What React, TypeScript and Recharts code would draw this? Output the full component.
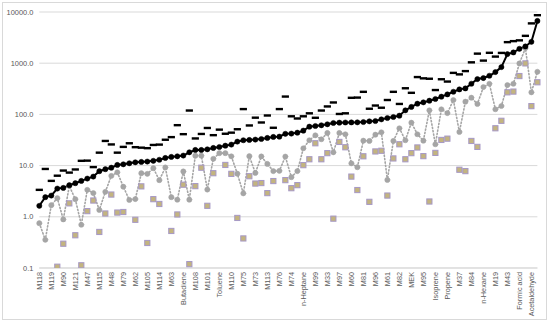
import React from "react";
import { ComposedChart, Line, XAxis, YAxis, CartesianGrid } from "recharts";

const tickLabels: string[] = [
  "M118", "M119", "M90", "M121", "M47", "M115", "M48", "M79", "M62", "M105",
  "M114", "M63", "Butadiene", "M108", "M101", "Toluene", "M110", "M75", "M73", "M113",
  "M76", "M74", "n-Heptane", "M99", "M33", "M97", "M60", "M81", "M96", "M61",
  "M82", "MEK", "M95", "Isoprene", "Propene", "M37", "M84", "n-Hexane", "M19", "M43",
  "Formic acid", "Acetaldehyde",
];

// 84 categories; labels shown on every other category
const categoryIndex: number[] = Array.from({ length: 84 }, (_, i) => i);

const blackSeries: number[] = [
  1.64, 2.42, 2.6, 3.56, 3.67, 4.14, 4.53, 5.03, 5.58, 6.1,
  7.77, 8.5, 9.1, 10.3, 10.6, 11.1, 11.6, 11.8, 12.0, 12.4,
  13.0, 14.1, 14.8, 15.2, 15.7, 18.2, 20.2, 20.2, 20.8, 22.1,
  23.1, 24.5, 25.7, 29.4, 31.3, 31.7, 32.2, 33.1, 34.7, 36.3,
  36.8, 41.8, 42.2, 44, 48.2, 57.6, 59.4, 61.3, 64.1, 68,
  69, 69.5, 69.8, 70, 71, 73.3, 74.3, 80, 85, 89,
  94.4, 120, 140, 162, 172, 185, 200, 222, 246, 277,
  308, 322, 397, 490, 513, 569, 671, 839, 1504, 1622,
  1910, 2125, 2620, 6700,
];

const greySeries: number[] = [
  0.75, 0.356, 1.69, 2.31, 0.89, 4.0, 2.21, 0.7, 3.36, 2.91,
  1.36, 3.07, 6.3, 7.4, 3.88, 2.14, 2.22, 7.1, 6.9, 8.9,
  5.2, 9.2, 2.42, 2.16, 7.7, 2.16, 15.6, 15.6, 3.4, 13.6,
  17.5, 17.5, 15.2, 6.95, 2.87, 15.3, 7.2, 15.1, 10.8, 7.8,
  7.9, 15.0, 5.94, 7.8, 21.8, 31.3, 39.1, 32.7, 43.4, 18.2,
  43.4, 41, 11.1, 9.3, 30.7, 30.3, 40.2, 44.8, 5.26, 30.3,
  53.6, 31.3, 69, 41, 30.7, 120, 26.1, 126, 106, 191,
  45.4, 177, 212, 160, 342, 397, 126, 146, 374, 397,
  988, 1970, 270, 680,
];

const squareSeries: (number | null)[] = [
  null, null, null, 0.106, 0.298, 1.83, 0.436, 0.113, 1.29, 2.08,
  0.506, 1.16, 2.72, 1.21, 1.24, null, 0.874, 3.93, 0.308, 2.21,
  1.78, null, 0.529, 1.11, 4.24, 0.119, 3.97, 9.1, 1.64, 7.1,
  null, 10.3, 6.9, 0.95, 0.378, 6.2, 4.46, 4.56, 2.9, 4.99,
  null, 5.2, 3.62, 4.15, 10.2, 13.3, 27.3, 13.3, 17.5, 0.92,
  29, 22.8, 6.1, 3.33, 15.2, 1.96, 18.9, 19.5, 2.6, 13.8,
  26.1, 13.3, 17.5, 22.6, 15.3, 1.99, 17.7, 31.7, 33.6, null,
  8.3, 7.8, 30.3, 23.2, null, null, 53.6, 75, 270, 279,
  561, 991, 145, 424,
];

const dashSeries: number[] = [
  3.36, 8.6, 5.03, 6.35, 8.0, 7.3, 8.4, 12.4, 12.5, 9.35,
  17.9, 30.3, 25.9, 17.9, 23.2, 27.3, 22.9, 22.4, 21.9, 25.3,
  25.7, 32, 36, 61.6, 41.1, 119, 33.9, 41.5, 54.3, 39.3,
  50.4, 41.9, 44, 51.3, 127, 60.8, 86.3, 69.5, 95.2, 54.8,
  127, 223, 91.8, 83.2, 91.8, 105, 85.9, 119, 143, 171,
  102, 105, 211, 213, 276, 129, 149, 135, 191, 276,
  160, 324, 264, 536, 506, 497, 299, 486, 438, 647,
  605, 701, 1040, 1538, 1124, 1596, 1346, 1588, 2577, 2698,
  2795, 3423, 5994, 8660,
];

const yTicks: number[] = [0.1, 1, 10, 100, 1000, 10000];

const data = categoryIndex.map((i) => ({
  i,
  black: blackSeries[i],
  grey: greySeries[i],
  square: squareSeries[i],
  dash: dashSeries[i],
}));

const FONT = "'Liberation Sans', Arial, sans-serif";

const XTick = (props: any) => {
  const { x, y, payload } = props;
  const idx = Number(payload.value);
  if (idx % 2 !== 0) return <g />;
  const label = tickLabels[idx / 2] ?? "";
  return (
    <text
      transform={`translate(${x},${y}) rotate(-90)`}
      textAnchor="end"
      dy="0.35em"
      fontSize={7.3}
      fontFamily={FONT}
      fill="#595959"
    >
      {label}
    </text>
  );
};

const SquareDot = (props: any) => {
  const { cx, cy, value, index } = props;
  if (value == null || cx == null || cy == null || isNaN(cy)) return <g key={`sq${index}`} />;
  return (
    <rect
      key={`sq${index}`}
      x={cx - 2.6}
      y={cy - 2.6}
      width={5.2}
      height={5.2}
      fill="#C3B47F"
      stroke="#A698C6"
      strokeWidth={1}
    />
  );
};

const DashDot = (props: any) => {
  const { cx, cy, value, index } = props;
  if (value == null || cx == null || cy == null || isNaN(cy)) return <g key={`d${index}`} />;
  return <rect key={`d${index}`} x={cx - 3.6} y={cy - 1.2} width={7.2} height={2.4} fill="#000000" />;
};

export default function App() {
  return (
    <div style={{ position: "absolute", left: 0, top: 0, width: 550, height: 323, background: "#fff" }}>
      <div
        style={{
          position: "absolute",
          left: 2,
          top: 2,
          width: 543,
          height: 316,
          border: "1px solid #D9D9D9",
          pointerEvents: "none",
        }}
      />
      <ComposedChart
        width={550}
        height={323}
        data={data}
        margin={{ top: 12, right: 12.6, left: 0, bottom: 0 }}
      >
        <CartesianGrid vertical={false} stroke="#D9D9D9" strokeWidth={1} />
        <XAxis
          dataKey="i"
          type="category"
          interval={0}
          height={55}
          tickLine={false}
          tickSize={0}
          tickMargin={4}
          axisLine={{ stroke: "#D9D9D9" }}
          tick={<XTick />}
        />
        <YAxis
          type="number"
          scale="log"
          domain={[0.1, 10000]}
          ticks={yTicks}
          allowDataOverflow
          width={39.3}
          axisLine={false}
          tickLine={false}
          tickSize={4}
          tickMargin={2}
          tickFormatter={(v: number) => v.toFixed(1)}
          tick={{ fontSize: 7.4, fontFamily: FONT, fill: "#595959" }}
        />
        <Line
          dataKey="grey"
          stroke="#A5A5A5"
          strokeWidth={1.6}
          strokeDasharray="1.2 2.2"
          strokeLinecap="round"
          dot={{ r: 2.6, fill: "#A5A5A5", stroke: "#A5A5A5", strokeWidth: 0.5, strokeDasharray: "" }}
          activeDot={false}
          isAnimationActive={false}
        />
        <Line
          dataKey="square"
          stroke="none"
          strokeWidth={0}
          dot={SquareDot}
          activeDot={false}
          isAnimationActive={false}
        />
        <Line
          dataKey="black"
          stroke="#000000"
          strokeWidth={2}
          dot={{ r: 2.6, fill: "#000000", stroke: "#000000", strokeWidth: 0.5 }}
          activeDot={false}
          isAnimationActive={false}
        />
        <Line
          dataKey="dash"
          stroke="none"
          strokeWidth={0}
          dot={DashDot}
          activeDot={false}
          isAnimationActive={false}
        />
      </ComposedChart>
    </div>
  );
}
